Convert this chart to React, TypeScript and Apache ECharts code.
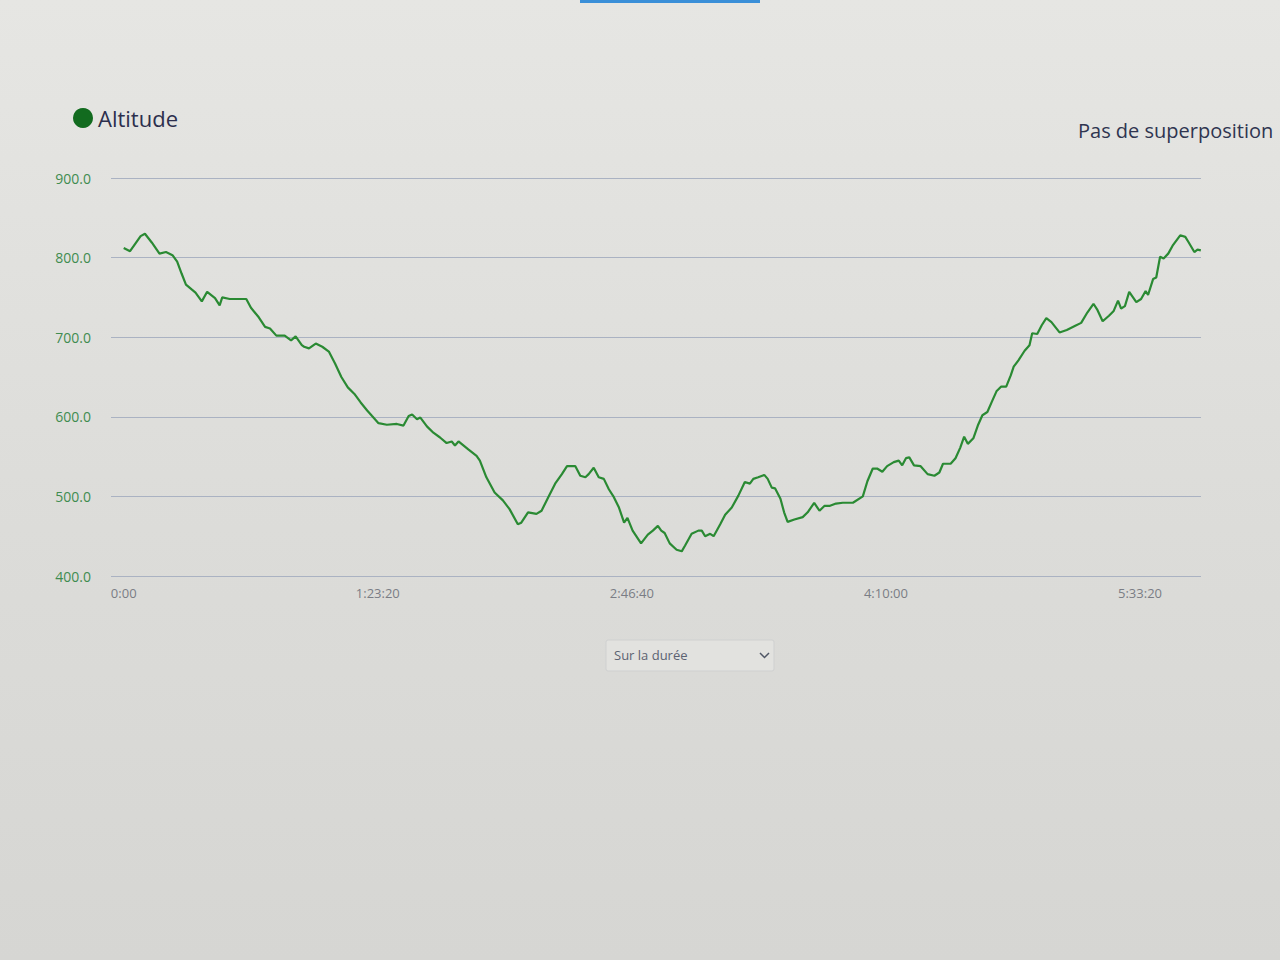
import React, { useEffect, useRef } from "react";
import * as echarts from "echarts";

// Elapsed time (s) and altitude (m)
const altitudeProfile: [number, number][] = [
  [0, 812], [125, 808], [333, 827], [418, 830], [552, 819], [704, 805], [832, 807], [960, 803],
  [1052, 795], [1139, 780], [1225, 766], [1337, 760], [1413, 756], [1537, 745], [1642, 757],
  [1797, 749], [1888, 740], [1939, 750], [2087, 748], [2218, 748], [2412, 748], [2504, 737],
  [2658, 725], [2782, 713], [2879, 711], [3004, 702], [3168, 702], [3293, 696], [3383, 701],
  [3505, 690], [3550, 688], [3646, 686], [3779, 692], [3908, 688], [4037, 682], [4159, 667],
  [4283, 650], [4410, 637], [4536, 629], [4663, 618], [4791, 608], [4888, 601], [5014, 592],
  [5178, 590], [5375, 591], [5506, 589], [5608, 601], [5676, 603], [5772, 597], [5838, 599],
  [5967, 588], [6094, 580], [6225, 574], [6355, 567], [6455, 569], [6519, 564], [6588, 569],
  [6781, 559], [6944, 551], [7009, 545], [7137, 524], [7299, 505], [7462, 495], [7593, 484],
  [7756, 465], [7824, 467], [7957, 480], [8123, 478], [8223, 482], [8355, 499], [8490, 516],
  [8623, 528], [8724, 538], [8888, 538], [8985, 526], [9086, 524], [9150, 528], [9249, 536],
  [9348, 524], [9448, 522], [9547, 509], [9646, 499], [9746, 486], [9847, 467], [9913, 473],
  [10015, 457], [10181, 441], [10314, 452], [10413, 457], [10512, 463], [10578, 457],
  [10645, 454], [10745, 441], [10880, 433], [10981, 431], [11045, 438], [11176, 453],
  [11309, 457], [11376, 457], [11442, 450], [11541, 453], [11609, 450], [11739, 465],
  [11836, 477], [11966, 486], [12096, 501], [12223, 518], [12322, 516], [12390, 522],
  [12486, 524], [12606, 527], [12673, 522], [12753, 511], [12820, 510], [12924, 497],
  [12996, 480], [13065, 468], [13198, 471], [13362, 474], [13460, 480], [13588, 492],
  [13692, 482], [13788, 488], [13887, 488], [14017, 491], [14150, 492], [14350, 492],
  [14545, 500], [14635, 519], [14741, 535], [14826, 535], [14929, 531], [15023, 538],
  [15154, 543], [15252, 545], [15320, 539], [15394, 548], [15460, 549], [15552, 539],
  [15683, 538], [15820, 528], [15954, 526], [16051, 530], [16123, 541], [16273, 541],
  [16369, 548], [16461, 561], [16539, 575], [16611, 566], [16720, 573], [16808, 589],
  [16898, 602], [16996, 606], [17085, 619], [17175, 632], [17269, 638], [17367, 638],
  [17456, 652], [17514, 663], [17607, 671], [17729, 683], [17825, 690], [17878, 705],
  [17977, 704], [18066, 715], [18156, 724], [18257, 719], [18416, 706], [18559, 709],
  [18716, 714], [18842, 718], [18963, 731], [19084, 742], [19155, 735], [19265, 720],
  [19389, 727], [19482, 733], [19567, 746], [19628, 736], [19703, 739], [19787, 757],
  [19927, 744], [20021, 748], [20110, 758], [20158, 753], [20257, 773], [20319, 775],
  [20395, 801], [20464, 799], [20555, 805], [20641, 815], [20791, 828], [20891, 826],
  [20959, 819], [21069, 807], [21131, 810], [21197, 809],
];

const timeTicks = [0, 5000, 10000, 15000, 20000];
const yTicks = { min: 400, max: 900, step: 100 };
const seriesName = "Altitude";
const overlayLabel = "Pas de superposition";
const dropdownLabel = "Sur la durée";

const fmtTime = (v: number) => {
  if (v === 0) return "0:00";
  const h = Math.floor(v / 3600);
  const m = Math.floor((v % 3600) / 60);
  const s = Math.round(v % 60);
  return `${h}:${String(m).padStart(2, "0")}:${String(s).padStart(2, "0")}`;
};

export default function App() {
  const ref = useRef<HTMLDivElement>(null);

  useEffect(() => {
    if (!ref.current) return;
    const chart = echarts.init(ref.current, null, { renderer: "svg" });
    const font = "Open Sans";
    chart.setOption({
      animation: false,
      backgroundColor: "transparent",
      textStyle: { fontFamily: font },
      legend: {
        left: 73,
        top: 107,
        padding: 0,
        icon: "circle",
        itemWidth: 20,
        itemHeight: 20,
        selectedMode: false,
        data: [{ name: seriesName, itemStyle: { color: "#126b1f" } }],
        textStyle: { fontSize: 22, color: "#2c2f4d", fontFamily: font },
      },
      grid: { left: 111, right: 79, top: 178, bottom: 384 },
      xAxis: {
        type: "value",
        min: -250,
        max: 21200,
        axisLine: { show: false },
        axisTick: { show: false },
        splitLine: { show: false },
        axisLabel: {
          customValues: timeTicks,
          formatter: (v: number) => fmtTime(v),
          color: "#7a7d85",
          fontSize: 13,
          margin: 10,
          fontFamily: font,
        },
      },
      yAxis: {
        type: "value",
        min: yTicks.min,
        max: yTicks.max,
        interval: yTicks.step,
        axisLine: { show: false },
        axisTick: { show: false },
        splitLine: { lineStyle: { color: "#aab2c2", width: 1 } },
        axisLabel: {
          formatter: (v: number) => v.toFixed(1),
          color: "#3f8c50",
          fontSize: 14,
          margin: 20,
          fontFamily: font,
        },
      },
      series: [
        {
          name: seriesName,
          type: "line",
          data: altitudeProfile,
          showSymbol: false,
          lineStyle: { color: "#2a8a33", width: 2.2 },
          itemStyle: { color: "#126b1f" },
        },
      ],
      graphic: [
        {
          type: "rect",
          shape: { x: 580, y: 0, width: 180, height: 3 },
          style: { fill: "#3a8fd8" },
        },
        {
          type: "text",
          x: 1078,
          y: 120,
          style: { text: overlayLabel, fontSize: 20, fill: "#2f3550", fontFamily: font },
        },
        {
          type: "rect",
          shape: { x: 606, y: 640, width: 168, height: 31, r: 2 },
          style: { fill: "#e2e2df", stroke: "#cfd0d0", lineWidth: 1 },
        },
        {
          type: "text",
          x: 614,
          y: 648,
          style: { text: dropdownLabel, fontSize: 13, fill: "#5c6272", fontFamily: font },
        },
        {
          type: "polyline",
          shape: { points: [[760, 653], [764.5, 657.5], [769, 653]] },
          style: { stroke: "#4f5666", lineWidth: 1.5, fill: "none" },
        },
      ],
    });
    return () => chart.dispose();
  }, []);

  return (
    <div
      style={{
        position: "fixed",
        left: 0,
        top: 0,
        width: 1280,
        height: 960,
        background: "linear-gradient(180deg, #e6e6e3 0%, #dcdcd9 55%, #d6d6d3 100%)",
      }}
    >
      <div ref={ref} style={{ width: 1280, height: 960 }} />
    </div>
  );
}
